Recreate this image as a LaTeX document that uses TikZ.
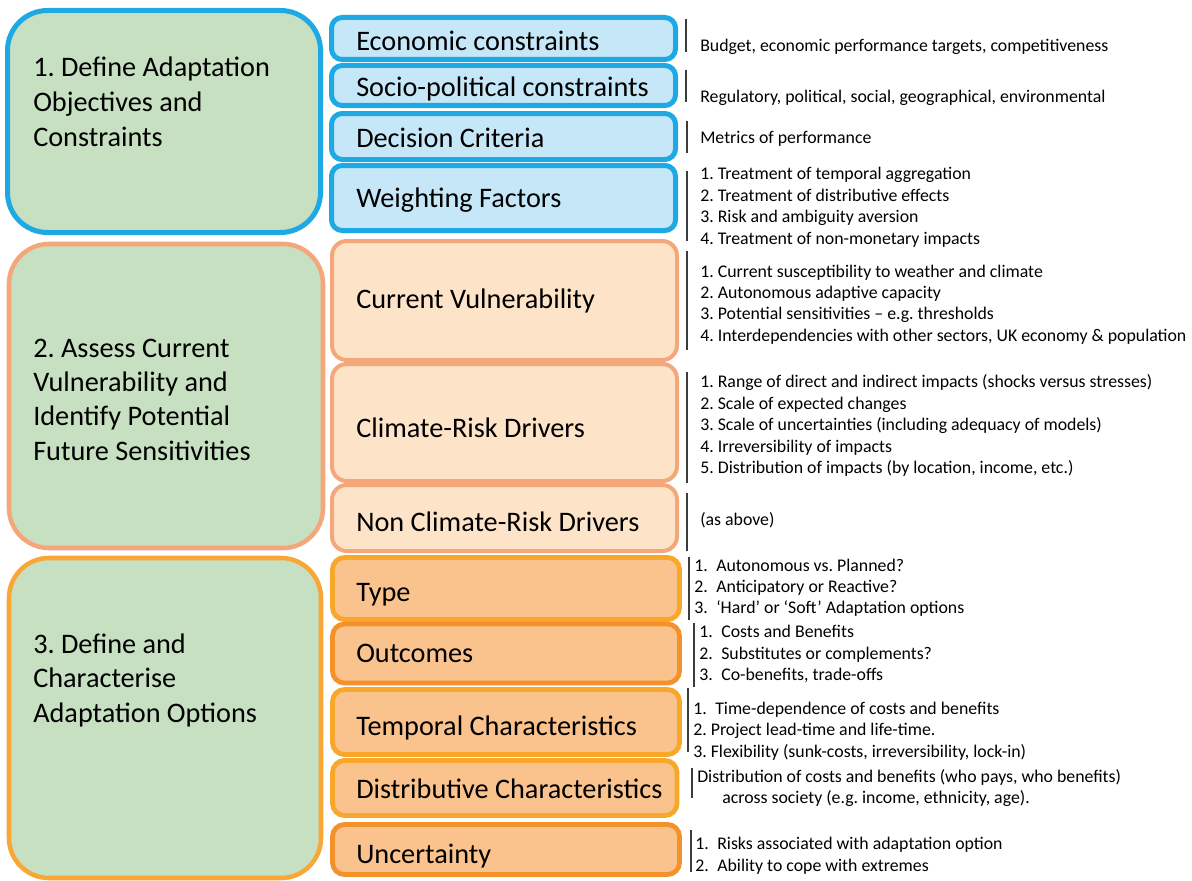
\documentclass[tikz,border=0pt]{standalone}
\usepackage{fontspec}
\setmainfont{Carlito}
\frenchspacing
\definecolor{greenfill}{HTML}{C7E0C1}
\definecolor{bluebd}{HTML}{1EA8E4}
\definecolor{bluefill}{HTML}{C6E7F7}
\definecolor{salmonbd}{HTML}{F5A77C}
\definecolor{salmonfill}{HTML}{FDE3C8}
\definecolor{goldbd}{HTML}{F9A72A}
\definecolor{darkorbd}{HTML}{F3922A}
\definecolor{orfill}{HTML}{FAC38E}
\definecolor{barcol}{HTML}{3C3C3C}
\tikzset{
  bigtxt/.style={anchor=base west,inner sep=0pt,font=\fontsize{21.2pt}{25pt}\selectfont},
  smalltxt/.style={anchor=base west,inner sep=0pt,font=\fontsize{13.35pt}{16pt}\selectfont},
  leftbox/.style={fill=greenfill,rounded corners=30pt},
  bluebox/.style={draw=bluebd,fill=bluefill,line width=3.75pt,rounded corners=8pt},
  salmonbox/.style={draw=salmonbd,fill=salmonfill,line width=3pt,rounded corners=11pt},
  goldbox/.style={draw=goldbd,fill=orfill,line width=3.6pt,rounded corners=9pt},
  darkorbox/.style={draw=darkorbd,fill=orfill,line width=3.6pt,rounded corners=9pt},
  bar/.style={draw=barcol,line width=1.1pt}
}
\begin{document}
\begin{tikzpicture}[x=0.75pt,y=-0.75pt]
\useasboundingbox[fill=white] (0,0) rectangle (1192,881);
% left boxes
\draw[leftbox,draw=bluebd,line width=3.75pt] (7.5,10.5) rectangle (320.5,232.5);
\draw[leftbox,draw=salmonbd,line width=3.4pt] (9,244) rectangle (323,548);
\draw[leftbox,draw=goldbd!85!salmonbd,line width=3.4pt] (9,558) rectangle (321,878);
\node[bigtxt] (l1a) at (33,77) {1. Define Adaptation};
\node[bigtxt] (l1b) at (33,111.5) {Objectives and};
\node[bigtxt] (l1c) at (33,146) {Constraints};
\node[bigtxt] (l2a) at (33,357) {2. Assess Current};
\node[bigtxt] (l2b) at (33,391.5) {Vulnerability and};
\node[bigtxt] (l2c) at (33,425.5) {Identify Potential};
\node[bigtxt] (l2d) at (33,460) {Future Sensitivities};
\node[bigtxt] (l3a) at (33,653) {3. Define and};
\node[bigtxt] (l3b) at (33,687.5) {Characterise};
\node[bigtxt] (l3c) at (33,722) {Adaptation Options};
% section 1 inner
\draw[bluebox] (331.5,17.5) rectangle (675.5,59.5);
\draw[bluebox] (331.5,65.5) rectangle (675.5,105.5);
\draw[bluebox] (331.5,113.5) rectangle (675.5,159.5);
\draw[bluebox] (331.5,165.5) rectangle (675.5,230.5);
\node[bigtxt] (b1) at (356,51) {Economic constraints};
\node[bigtxt] (b2) at (356,97) {Socio-political constraints};
\node[bigtxt] (b3) at (356,147) {Decision Criteria};
\node[bigtxt] (b4) at (356,207) {Weighting Factors};
% section 2 inner
\draw[salmonbox] (332,241) rectangle (677,360);
\draw[salmonbox] (332,364) rectangle (677,481);
\draw[salmonbox] (332,485) rectangle (677,551);
\node[bigtxt] (s1) at (356,308) {Current Vulnerability};
\node[bigtxt] (s2) at (356,437) {Climate-Risk Drivers};
\node[bigtxt] (s3) at (356,531) {Non Climate-Risk Drivers};
% section 3 inner
\draw[goldbox] (332.5,557.5) rectangle (679.5,619.5);
\draw[darkorbox] (332.5,624) rectangle (679.5,683);
\draw[goldbox] (332.5,689.5) rectangle (679.5,754.5);
\draw[goldbox] (332.5,760.5) rectangle (677,815.5);
\draw[darkorbox] (332.5,824.5) rectangle (679.5,874.5);
\node[bigtxt] (o1) at (356,601) {Type};
\node[bigtxt] (o2) at (356,662) {Outcomes};
\node[bigtxt] (o3) at (356,735) {Temporal Characteristics};
\node[bigtxt] (o4) at (356,798) {Distributive Characteristics};
\node[bigtxt] (o5) at (356,863) {Uncertainty};
% bars
\draw[bar] (686,19) -- (686,52);
\draw[bar] (686,70) -- (686,102);
\draw[bar] (687,121) -- (687,153);
\draw[bar] (687,171) -- (687,241);
\draw[bar] (687,251) -- (687,350);
\draw[bar] (687,372) -- (687,483);
\draw[bar] (687,493) -- (687,551);
\draw[bar] (689,557) -- (689,620);
\draw[bar] (694,623) -- (694,687);
\draw[bar] (688,688) -- (688,752);
\draw[bar] (692,768) -- (692,798);
\draw[bar] (691,830) -- (691,872);
% descriptions
\node[smalltxt] (d1) at (700,52) {Budget, economic performance targets, competitiveness};
\node[smalltxt] (d2) at (700,103) {Regulatory, political, social, geographical, environmental};
\node[smalltxt] (d3) at (700,143) {Metrics of performance};
\node[smalltxt] (d4a) at (700,179) {1. Treatment of temporal aggregation};
\node[smalltxt] (d4b) at (700,201) {2. Treatment of distributive effects};
\node[smalltxt] (d4c) at (700,222) {3. Risk and ambiguity aversion};
\node[smalltxt] (d4d) at (700,244) {4. Treatment of non-monetary impacts};
\node[smalltxt] (d5a) at (700,277) {1. Current susceptibility to weather and climate};
\node[smalltxt] (d5b) at (700,298) {2. Autonomous adaptive capacity};
\node[smalltxt] (d5c) at (700,319) {3. Potential sensitivities – e.g. thresholds};
\node[smalltxt] (d5d) at (700,341) {4. Interdependencies with other sectors, UK economy \& population};
\node[smalltxt] (d6a) at (700,387) {1. Range of direct and indirect impacts (shocks versus stresses)};
\node[smalltxt] (d6b) at (700,409) {2. Scale of expected changes};
\node[smalltxt] (d6c) at (700,430) {3. Scale of uncertainties (including adequacy of models)};
\node[smalltxt] (d6d) at (700,452) {4. Irreversibility of impacts};
\node[smalltxt] (d6e) at (700,473) {5. Distribution of impacts (by location, income, etc.)};
\node[smalltxt] (d7) at (700,525) {(as above)};
\node[smalltxt] (t1n) at (694,571) {1.};
\node[smalltxt] (t1) at (716,571) {Autonomous vs. Planned?};
\node[smalltxt] (t2n) at (694,592) {2.};
\node[smalltxt] (t2) at (716,592) {Anticipatory or Reactive?};
\node[smalltxt] (t3n) at (694,613) {3.};
\node[smalltxt] (t3) at (716,613) {‘Hard’ or ‘Soft’ Adaptation options};
\node[smalltxt] (u1n) at (699,637) {1.};
\node[smalltxt] (u1) at (721,637) {Costs and Benefits};
\node[smalltxt] (u2n) at (699,659) {2.};
\node[smalltxt] (u2) at (721,659) {Substitutes or complements?};
\node[smalltxt] (u3n) at (699,680) {3.};
\node[smalltxt] (u3) at (721,680) {Co-benefits, trade-offs};
\node[smalltxt] (p1n) at (693,714) {1.};
\node[smalltxt] (p1) at (715,714) {Time-dependence of costs and benefits};
\node[smalltxt] (p2) at (693,735) {2. Project lead-time and life-time.};
\node[smalltxt] (p3) at (693,757) {3. Flexibility (sunk-costs, irreversibility, lock-in)};
\node[smalltxt] (q1) at (697,782) {Distribution of costs and benefits (who pays, who benefits)};
\node[smalltxt] (q2) at (722,803) {across society (e.g. income, ethnicity, age).};
\node[smalltxt] (r1n) at (695,849) {1.};
\node[smalltxt] (r1) at (717,849) {Risks associated with adaptation option};
\node[smalltxt] (r2n) at (695,871) {2.};
\node[smalltxt] (r2) at (717,871) {Ability to cope with extremes};
\end{tikzpicture}
\end{document}
